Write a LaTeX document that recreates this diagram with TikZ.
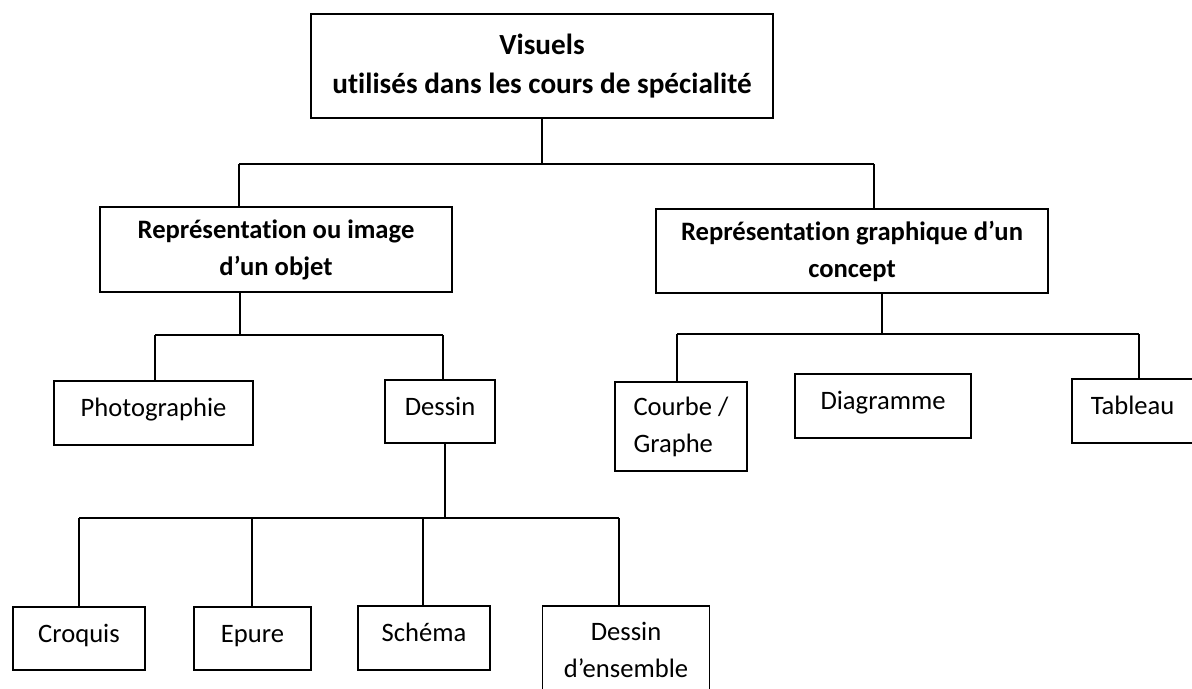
\documentclass[tikz,border=0pt]{standalone}
\usepackage{fontspec}
\setmainfont{Carlito}[RawFeature={-liga;-clig;-calt;-dlig}]

\begin{document}
\begin{tikzpicture}[x=0.5pt, y=-0.5pt, line width=0.8pt,
		box/.style={draw, inner sep=2pt, font=\fontsize{13.3}{18.5}\selectfont},
		onebox/.style={box, text height=10pt, text depth=6.4pt},
		headbox/.style={box, align=center, font=\bfseries\fontsize{13.3}{18.5}\selectfont}]
		\useasboundingbox (0,0) rectangle (1192,689);

		\node [headbox, minimum width=231pt, minimum height=52pt, font=\bfseries\fontsize{14.6}{19.5}\selectfont] (visuels) at (542,66) {Visuels\\utilisés dans les cours de spécialité};
		\node [headbox, minimum width=176pt, minimum height=42.5pt] (objet) at (276,249.5) {Représentation ou image\\d’un objet};
		\node [headbox, minimum width=196pt, minimum height=42pt] (concept) at (852,251) {Représentation graphique d’un\\concept};

		\node [onebox, minimum width=99.5pt, minimum height=32pt] (photo) at (153.5,413) {Photographie};
		\node [onebox, minimum width=55pt, minimum height=31.5pt] (dessin) at (440,411.5) {Dessin};

		\node [box, align=left, minimum width=66pt, minimum height=44.5pt] (courbe) at (681,426.5) {Courbe /\\Graphe};
		\node [onebox, minimum width=88pt, minimum height=32pt] (diagramme) at (883,406) {Diagramme};
		\node [onebox, anchor=west, text width=60pt, align=left, inner xsep=9.5pt, minimum height=32pt] (tableau) at (1071,411) {Tableau};

		\node [onebox, minimum width=66pt, minimum height=31.5pt] (croquis) at (79,638.5) {Croquis};
		\node [onebox, minimum width=58.5pt, minimum height=31.5pt] (epure) at (252.5,638.5) {Epure};
		\node [onebox, minimum width=66pt, minimum height=32pt] (schema) at (424,638) {Schéma};
		\node [box, align=center, minimum width=83.5pt, minimum height=44pt] (ensemble) at (626,650) {Dessin\\d’ensemble};

		\coordinate (j1) at (239,164);
		\coordinate (j2) at (874,164);
		\draw (visuels.south) -- (visuels.south |- j1);
		\draw (j1) -- (j2);
		\draw (j1) -- (j1 |- objet.north);
		\draw (j2) -- (j2 |- concept.north);

		\coordinate (k0) at (240,335);
		\coordinate (k1) at (155,335);
		\coordinate (k2) at (443,335);
		\draw (k0 |- objet.south) -- (k0);
		\draw (k1) -- (k2);
		\draw (k1) -- (k1 |- photo.north);
		\draw (k2) -- (k2 |- dessin.north);

		\coordinate (m0) at (882,334);
		\coordinate (m1) at (677,334);
		\coordinate (m2) at (1139,334);
		\draw (m0 |- concept.south) -- (m0);
		\draw (m1) -- (m2);
		\draw (m1) -- (m1 |- courbe.north);
		\draw (m2) -- (m2 |- tableau.north);

		\coordinate (n0) at (445,518);
		\coordinate (n1) at (79,518);
		\coordinate (n2) at (252,518);
		\coordinate (n3) at (423,518);
		\coordinate (n4) at (619,518);
		\draw (n0 |- dessin.south) -- (n0);
		\draw (n1) -- (n4);
		\draw (n1) -- (n1 |- croquis.north);
		\draw (n2) -- (n2 |- epure.north);
		\draw (n3) -- (n3 |- schema.north);
		\draw (n4) -- (n4 |- ensemble.north);

	\end{tikzpicture}
\end{document}
